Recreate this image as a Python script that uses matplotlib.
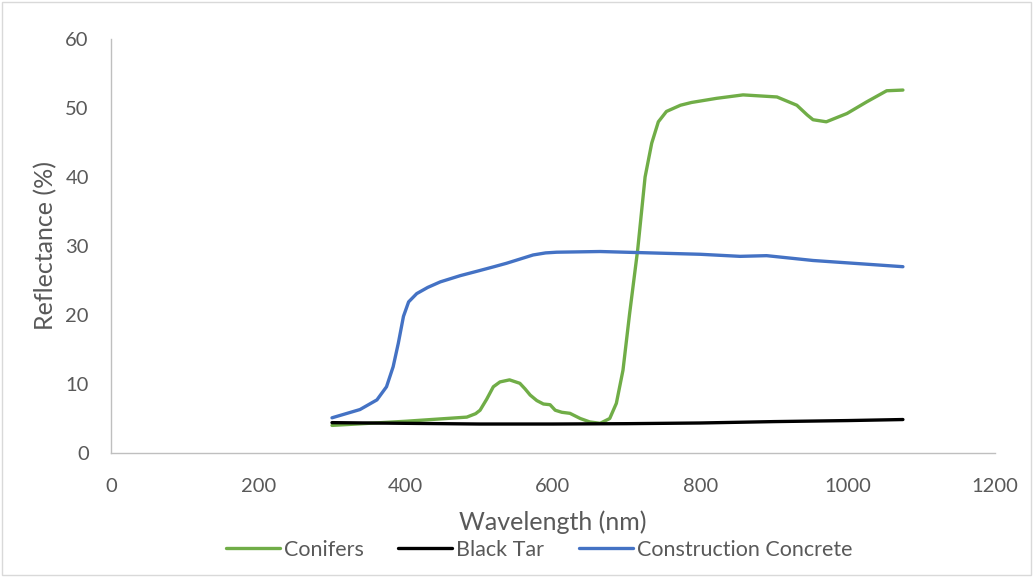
import matplotlib
matplotlib.use("Agg")
import matplotlib.pyplot as plt
from matplotlib.patches import Rectangle

plt.rcParams['font.family'] = ['Lato', 'DejaVu Sans']

# Conifers
con_x = [300, 400, 483, 495, 501, 510, 519, 528, 541, 555, 562, 569, 578, 587,
         596, 603, 612, 623, 637, 650, 664, 677, 686, 695, 704, 715, 725,
         734, 743, 754, 773, 788, 822, 858, 904, 931, 945, 953, 971, 999, 1026,
         1053, 1075]
con_y = [4.0, 4.6, 5.2, 5.7, 6.2, 7.8, 9.6, 10.3, 10.6, 10.1, 9.3, 8.4, 7.6,
         7.1, 7.0, 6.2, 5.9, 5.75, 5.0, 4.5, 4.3, 5.0, 7.2, 12.0, 20.2, 29.5,
         40.0, 44.9, 48.0, 49.5, 50.4, 50.8, 51.4, 51.9, 51.6, 50.4, 49.0, 48.3,
         48.0, 49.2, 50.9, 52.5, 52.6]

# Black Tar
tar_x = [300, 400, 500, 600, 700, 800, 900, 1000, 1075]
tar_y = [4.4, 4.3, 4.2, 4.2, 4.25, 4.35, 4.55, 4.7, 4.85]

# Construction Concrete
cc_x = [300, 338, 361, 374, 383, 390, 397, 404, 415, 430, 447, 474, 499, 520,
        537, 555, 573, 590, 605, 664, 800, 854, 890, 953, 1075]
cc_y = [5.1, 6.3, 7.7, 9.6, 12.5, 15.9, 19.8, 21.9, 23.1, 24.0, 24.8, 25.7,
        26.4, 27.0, 27.5, 28.1, 28.7, 29.0, 29.1, 29.2, 28.8, 28.5, 28.6, 27.9,
        27.0]

xticks = [0, 200, 400, 600, 800, 1000, 1200]
yticks = [0, 10, 20, 30, 40, 50, 60]

fig = plt.figure(figsize=(10.35, 5.77), dpi=100)
ax = fig.add_axes([111/1035, 1 - 453/577, 884/1035, 414/577])

kw = dict(linewidth=2.4, solid_joinstyle='round', solid_capstyle='round')
ax.plot(con_x, con_y, color='#70AD47', label='Conifers', **kw)
ax.plot(tar_x, tar_y, color='#000000', label='Black Tar', **kw)
ax.plot(cc_x, cc_y, color='#4472C4', label='Construction Concrete', **kw)

ax.set_xlim(0, 1200)
ax.set_ylim(0, 60)
ax.set_xticks(xticks)
ax.set_yticks(yticks)
for s in ['top', 'right']:
    ax.spines[s].set_visible(False)
for s in ['left', 'bottom']:
    ax.spines[s].set_color('#BFBFBF')
    ax.spines[s].set_linewidth(1.0)
ax.tick_params(length=0, labelsize=14.5, labelcolor='#595959')
ax.tick_params(axis='y', pad=16)
ax.tick_params(axis='x', pad=18)

ax.set_xlabel('Wavelength (nm)', fontsize=18, color='#595959', labelpad=11)
ax.set_ylabel('Reflectance (%)', fontsize=18, color='#595959', labelpad=6)

leg = fig.legend(loc='center', bbox_to_anchor=(539/1035, 1 - 550/577), ncol=3,
                 frameon=False, fontsize=15.5, handlelength=2.5,
                 columnspacing=1.6, handletextpad=0.2, labelcolor='#595959')

fig.patches.append(Rectangle((0.002, 0.004), 0.994, 0.992, transform=fig.transFigure,
                             fill=False, edgecolor='#D9D9D9', linewidth=1.0))

fig.savefig('out.png', dpi=100)
